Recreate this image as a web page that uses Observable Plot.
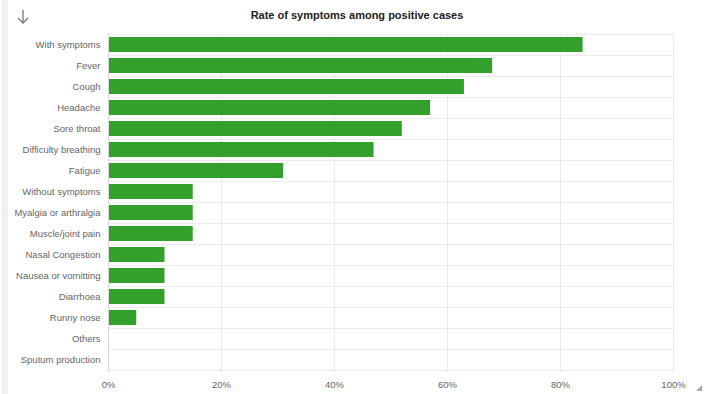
<!DOCTYPE html>
<html>
<head>
<meta charset="utf-8">
<script src="https://cdn.jsdelivr.net/npm/d3@7"></script>
<script src="https://cdn.jsdelivr.net/npm/@observablehq/plot@0.6"></script>
<style>
  html, body { margin: 0; padding: 0; background: #fff; }
  body { width: 705px; height: 394px; position: relative; overflow: hidden; font-family: "Liberation Sans", Arial, sans-serif; }
  #strip { position: absolute; left: 2px; top: 0; width: 6px; height: 394px; background: #f0f0f0; }
  #head { height: 30px; position: relative; }
  #title { position: absolute; left: 0; width: 714px; top: 9px; text-align: center; font-size: 11px; font-weight: bold; color: #222; }
  #arrow { position: absolute; left: 16px; top: 9px; }
  #resize { position: absolute; right: 3px; bottom: 3px; }
  #chart { position: absolute; left: 0; top: 30px; }
</style>
</head>
<body>
<div id="strip"></div>
<div id="head">
  <svg id="arrow" width="14" height="16" viewBox="0 0 14 16"><path d="M7 1 V14 M2 9 L7 14 L12 9" fill="none" stroke="#777" stroke-width="1.3"/></svg>
  <div id="title">Rate of symptoms among positive cases</div>
</div>
<div id="chart"></div>
<svg id="resize" width="6" height="6" viewBox="0 0 6 6"><path d="M0 6 L6 0 L6 6 Z" fill="#aaa"/></svg>
<script>
const categories = ["With symptoms","Fever","Cough","Headache","Sore throat","Difficulty breathing","Fatigue","Without symptoms","Myalgia or arthralgia","Muscle/joint pain","Nasal Congestion","Nausea or vomitting","Diarrhoea","Runny nose","Others","Sputum production"];
const values = [84,68,63,57,52,47,31,15,15,15,10,10,10,5,0,0];
const xTicks = [0,20,40,60,80,100];

const data = categories.map((c, i) => ({category: c, value: values[i]}));
const H = 364, mTop = 3, mBottom = 22;
const step = (H - mTop - mBottom) / categories.length;

const chart = Plot.plot({
  width: 705,
  height: H,
  marginLeft: 108,
  marginRight: 32,
  marginTop: mTop,
  marginBottom: mBottom,
  style: {fontFamily: "'Liberation Sans', Arial, sans-serif", fontSize: "9.5px", color: "#666", background: "transparent"},
  x: {domain: [0, 100], ticks: xTicks, tickFormat: d => d + "%", label: null, tickSize: 0, tickPadding: 9},
  y: {domain: categories, paddingInner: 0.28, paddingOuter: 0.14, label: null, tickSize: 0, tickPadding: 8},
  marks: [
    Plot.ruleX(xTicks.slice(1), {stroke: "#ebebeb", strokeWidth: 1}),
    Plot.ruleY(categories, {y: d => d, dy: -step / 2, stroke: "#ebebeb"}),
    Plot.ruleY(categories.slice(-1), {y: d => d, dy: step / 2, stroke: "#ebebeb"}),
    Plot.barX(data, {y: "category", x: "value", fill: "#33a02c"}),
    Plot.ruleX([0], {stroke: "#d8d8d8", strokeWidth: 1})
  ]
});
document.getElementById("chart").appendChild(chart);
</script>
</body>
</html>
